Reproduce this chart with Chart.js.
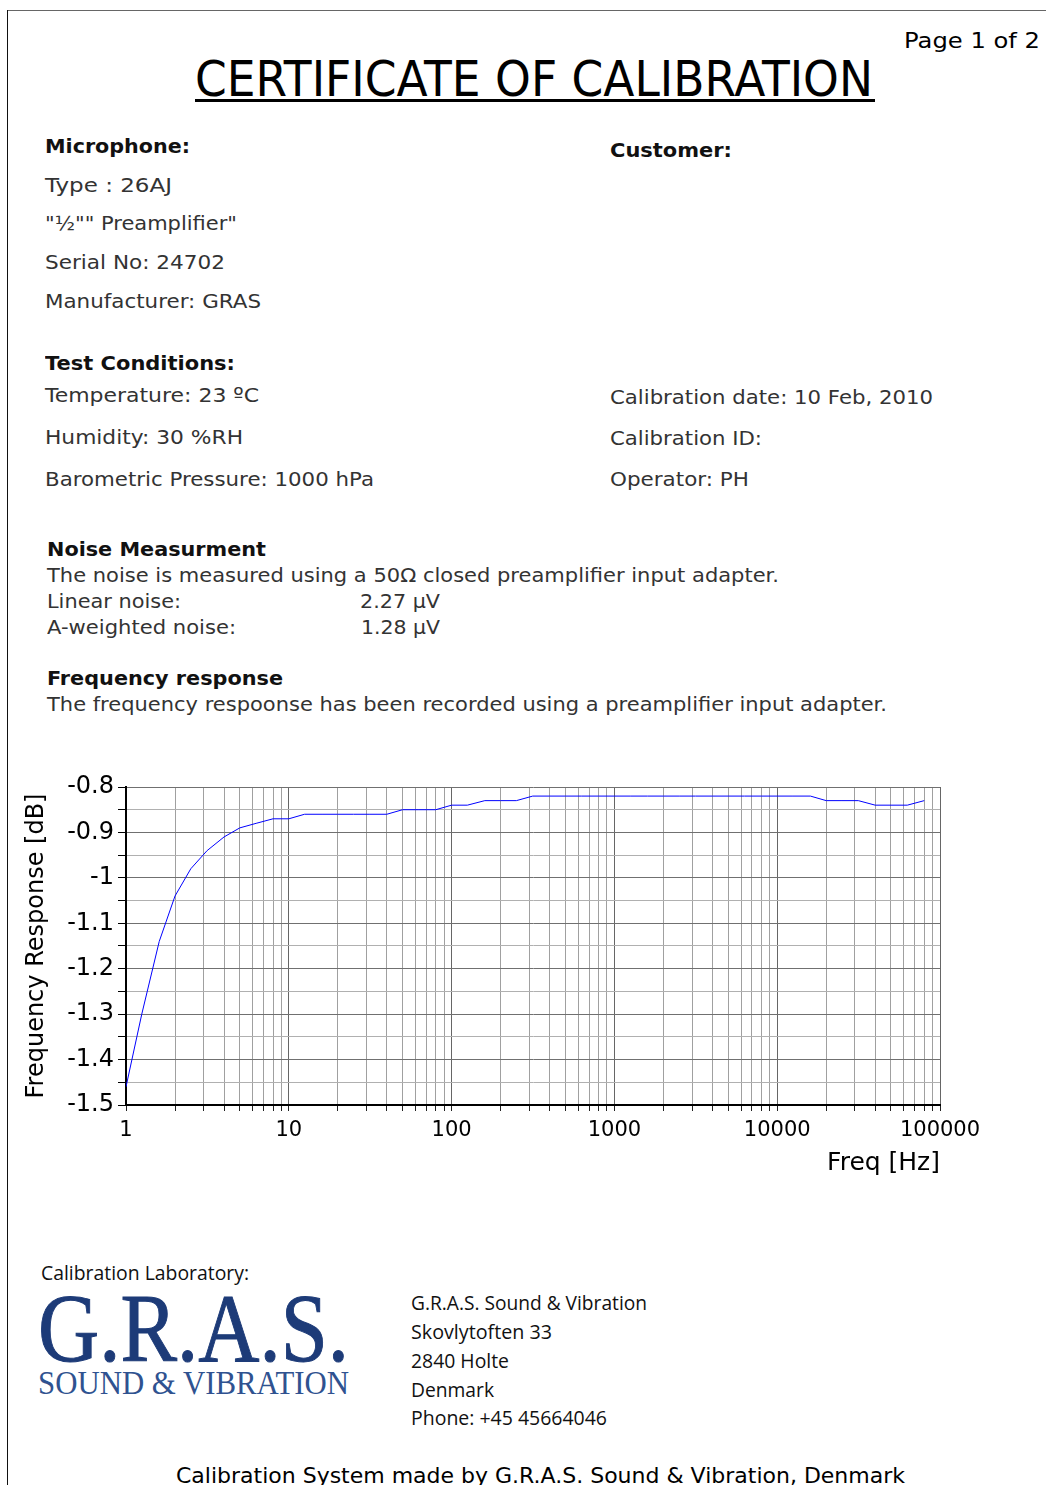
<!DOCTYPE html>
<html>
<head>
<meta charset="utf-8">
<script src="https://cdn.jsdelivr.net/npm/chart.js@4/dist/chart.umd.min.js"></script>
<style>
  html, body { margin:0; padding:0; background:#fff; }
  body { width:1046px; height:1485px; position:relative; overflow:hidden; }
  .t { position:absolute; white-space:nowrap; line-height:1; transform-origin:0 50%; display:inline-block; }
  .v { font-family:"DejaVu Sans", Verdana, sans-serif; }
  .body { color:#333; }
  .hd { color:#111; font-weight:bold; }
  .m { font-family:"Open Sans", "Noto Sans", sans-serif; color:#111; }
  .logo { font-family:"Liberation Serif", "DejaVu Serif", serif; }
  #chartWrap { position:absolute; left:0; top:760px; width:1046px; height:430px; }
</style>
</head>
<body>
<div style="position:absolute;left:7px;top:10px;width:1039px;height:1px;background:#666"></div>
<div style="position:absolute;left:7px;top:10px;width:1px;height:1475px;background:#111"></div>

<div class="t v" data-w="136" style="left:904px;top:30px;font-size:22px;color:#000">Page 1 of 2</div>
<div class="t v" data-w="678" style="left:195px;top:55px;font-size:49px;color:#000">CERTIFICATE OF CALIBRATION</div>
<div style="position:absolute;left:195px;top:99px;width:680px;height:3px;background:#000"></div>

<div class="t v hd" data-w="145" style="left:45px;top:136px;font-size:20px">Microphone:</div>
<div class="t v body" data-w="127" style="left:45px;top:175px;font-size:20px">Type : 26AJ</div>
<div class="t v body" data-w="192" style="left:45px;top:213px;font-size:20px">"½"" Preamplifier"</div>
<div class="t v body" data-w="180" style="left:45px;top:252px;font-size:20px">Serial No: 24702</div>
<div class="t v body" data-w="216" style="left:45px;top:291px;font-size:20px">Manufacturer: GRAS</div>

<div class="t v hd" data-w="122" style="left:610px;top:140px;font-size:20px">Customer:</div>

<div class="t v hd" data-w="190" style="left:45px;top:353px;font-size:20px">Test Conditions:</div>
<div class="t v body" data-w="214" style="left:45px;top:385px;font-size:20px">Temperature: 23 ºC</div>
<div class="t v body" data-w="198" style="left:45px;top:427px;font-size:20px">Humidity: 30 %RH</div>
<div class="t v body" data-w="329" style="left:45px;top:469px;font-size:20px">Barometric Pressure: 1000 hPa</div>

<div class="t v body" data-w="323" style="left:610px;top:387px;font-size:20px">Calibration date: 10 Feb, 2010</div>
<div class="t v body" data-w="152" style="left:610px;top:428px;font-size:20px">Calibration ID:</div>
<div class="t v body" data-w="139" style="left:610px;top:469px;font-size:20px">Operator: PH</div>

<div class="t v hd" data-w="219" style="left:47px;top:540px;font-size:19px">Noise Measurment</div>
<div class="t v body" data-w="732" style="left:47px;top:566px;font-size:19px">The noise is measured using a 50Ω closed preamplifier input adapter.</div>
<div class="t v body" data-w="134" style="left:47px;top:592px;font-size:19px">Linear noise:</div>
<div class="t v body" data-w="80" style="left:360px;top:592px;font-size:19px">2.27 µV</div>
<div class="t v body" data-w="189" style="left:47px;top:618px;font-size:19px">A-weighted noise:</div>
<div class="t v body" data-w="79" style="left:361px;top:618px;font-size:19px">1.28 µV</div>
<div class="t v hd" data-w="236" style="left:47px;top:669px;font-size:19px">Frequency response</div>
<div class="t v body" data-w="840" style="left:47px;top:695px;font-size:19px">The frequency respoonse has been recorded using a preamplifier input adapter.</div>

<div id="chartWrap"><canvas id="c" width="1046" height="430"></canvas></div>

<div class="t m" data-w="208" style="left:41px;top:1263px;font-size:20px">Calibration Laboratory:</div>
<div class="t logo" data-w="311" style="left:38px;top:1280px;font-size:97px;color:#1d3b78;-webkit-text-stroke:1px #1d3b78">G.R.A.S.</div>
<div class="t logo" data-w="311" style="left:38px;top:1366px;font-size:34px;color:#2f5290">SOUND &amp; VIBRATION</div>

<div class="t m" data-w="236" style="left:411px;top:1293px;font-size:20px">G.R.A.S. Sound &amp; Vibration</div>
<div class="t m" data-w="141" style="left:411px;top:1322px;font-size:20px">Skovlytoften 33</div>
<div class="t m" data-w="98" style="left:411px;top:1351px;font-size:20px">2840 Holte</div>
<div class="t m" data-w="83" style="left:411px;top:1380px;font-size:20px">Denmark</div>
<div class="t m" data-w="196" style="left:411px;top:1408px;font-size:20px">Phone: +45 45664046</div>

<div class="t v" data-w="729" style="left:176px;top:1466px;font-size:21px;color:#000">Calibration System made by G.R.A.S. Sound &amp; Vibration, Denmark</div>

<script>
// ---- data ----
const freqHz = [1, 1.25, 1.6, 2, 2.5, 3.15, 4, 5, 6.3, 8, 10, 12.5, 16, 20, 25, 31.5, 40, 50, 63, 80,
  100, 125, 160, 200, 250, 315, 400, 500, 630, 800, 1000, 1250, 1600, 2000, 2500, 3150, 4000, 5000,
  6300, 8000, 10000, 12500, 16000, 20000, 25000, 31500, 40000, 50000, 63000, 80000];
const responseDb = [-1.46, -1.30, -1.14, -1.04, -0.98, -0.94, -0.91, -0.89, -0.88, -0.87, -0.87, -0.86,
  -0.86, -0.86, -0.86, -0.86, -0.86, -0.85, -0.85, -0.85,
  -0.84, -0.84, -0.83, -0.83, -0.83, -0.82, -0.82, -0.82, -0.82, -0.82, -0.82, -0.82, -0.82, -0.82,
  -0.82, -0.82, -0.82, -0.82, -0.82, -0.82, -0.82, -0.82, -0.82, -0.83, -0.83, -0.83, -0.84, -0.84,
  -0.84, -0.83];
const xTickValues = [1,2,3,4,5,6,7,8,9,10,20,30,40,50,60,70,80,90,100,200,300,400,500,600,700,800,900,
  1000,2000,3000,4000,5000,6000,7000,8000,9000,10000,20000,30000,40000,50000,60000,70000,80000,90000,100000];
const xTickLabels = {1:'1', 10:'10', 100:'100', 1000:'1000', 10000:'10000', 100000:'100000'};
const yTickValues = [-1.5,-1.45,-1.4,-1.35,-1.3,-1.25,-1.2,-1.15,-1.1,-1.05,-1,-0.95,-0.9,-0.85,-0.8];
const yTickLabels = {'-1.5':'-1.5','-1.4':'-1.4','-1.3':'-1.3','-1.2':'-1.2','-1.1':'-1.1','-1':'-1','-0.9':'-0.9','-0.8':'-0.8'};

function fitTexts(){
  document.querySelectorAll('[data-w]').forEach(el=>{
    el.style.transform='none';
    const w = el.getBoundingClientRect().width;
    const target = parseFloat(el.dataset.w);
    if (w>0) el.style.transform = 'scaleX(' + (target / w) + ')';
  });
}

function yKey(v){ return String(Math.round(v*100)/100); }

function build(){
  fitTexts();
  const font = "'DejaVu Sans', Verdana, sans-serif";
  new Chart(document.getElementById('c'), {
    type: 'line',
    data: {
      datasets: [{
        data: freqHz.map((f,i)=>({x:f, y:responseDb[i]})),
        borderColor: '#0000ff',
        borderWidth: 1,
        pointRadius: 0,
        tension: 0,
        fill: false
      }]
    },
    options: {
      responsive: false,
      animation: false,
      devicePixelRatio: 1,
      layout: { padding: { left: 0, right: 106, top: 27, bottom: 0 } },
      plugins: { legend: { display: false }, tooltip: { enabled: false } },
      scales: {
        x: {
          type: 'logarithmic',
          min: 1, max: 100000,
          afterBuildTicks: s => { s.ticks = xTickValues.map(v=>({value:v})); },
          afterFit: s => { s.height = 85; },
          ticks: {
            autoSkip: false, maxRotation: 0, minRotation: 0, padding: 7,
            color: '#000', font: { family: font, size: 21 },
            callback: v => xTickLabels[v] || ''
          },
          grid: {
            color: c => (c.tick && xTickLabels[c.tick.value]) ? '#666' : '#a0a0a0',
            lineWidth: 1,
            tickLength: 6,
            tickColor: '#222'
          },
          border: { color: '#000', width: 2 },
          title: { display: true, text: 'Freq [Hz]', align: 'end', color: '#000',
                   font: { family: font, size: 25 }, padding: { top: 0, bottom: 12 } }
        },
        y: {
          type: 'linear',
          min: -1.5, max: -0.8,
          afterBuildTicks: s => { s.ticks = yTickValues.map(v=>({value:v})); },
          afterFit: s => { s.width = 126; },
          ticks: {
            autoSkip: false, padding: 4, color: '#000', font: { family: font, size: 24 },
            callback: v => yTickLabels[yKey(v)] || ''
          },
          grid: {
            color: c => (c.tick && yTickLabels[yKey(c.tick.value)]) ? '#707070' : '#b0b0b0',
            lineWidth: 1,
            tickLength: 8,
            tickColor: '#000'
          },
          border: { color: '#000', width: 2 },
          title: { display: true, text: 'Frequency Response [dB]', color: '#000',
                   font: { family: font, size: 24 }, padding: { top: 22, bottom: 0 } }
        }
      }
    }
  });
}
if (document.fonts && document.fonts.ready) document.fonts.ready.then(build); else build();
</script>
</body>
</html>
